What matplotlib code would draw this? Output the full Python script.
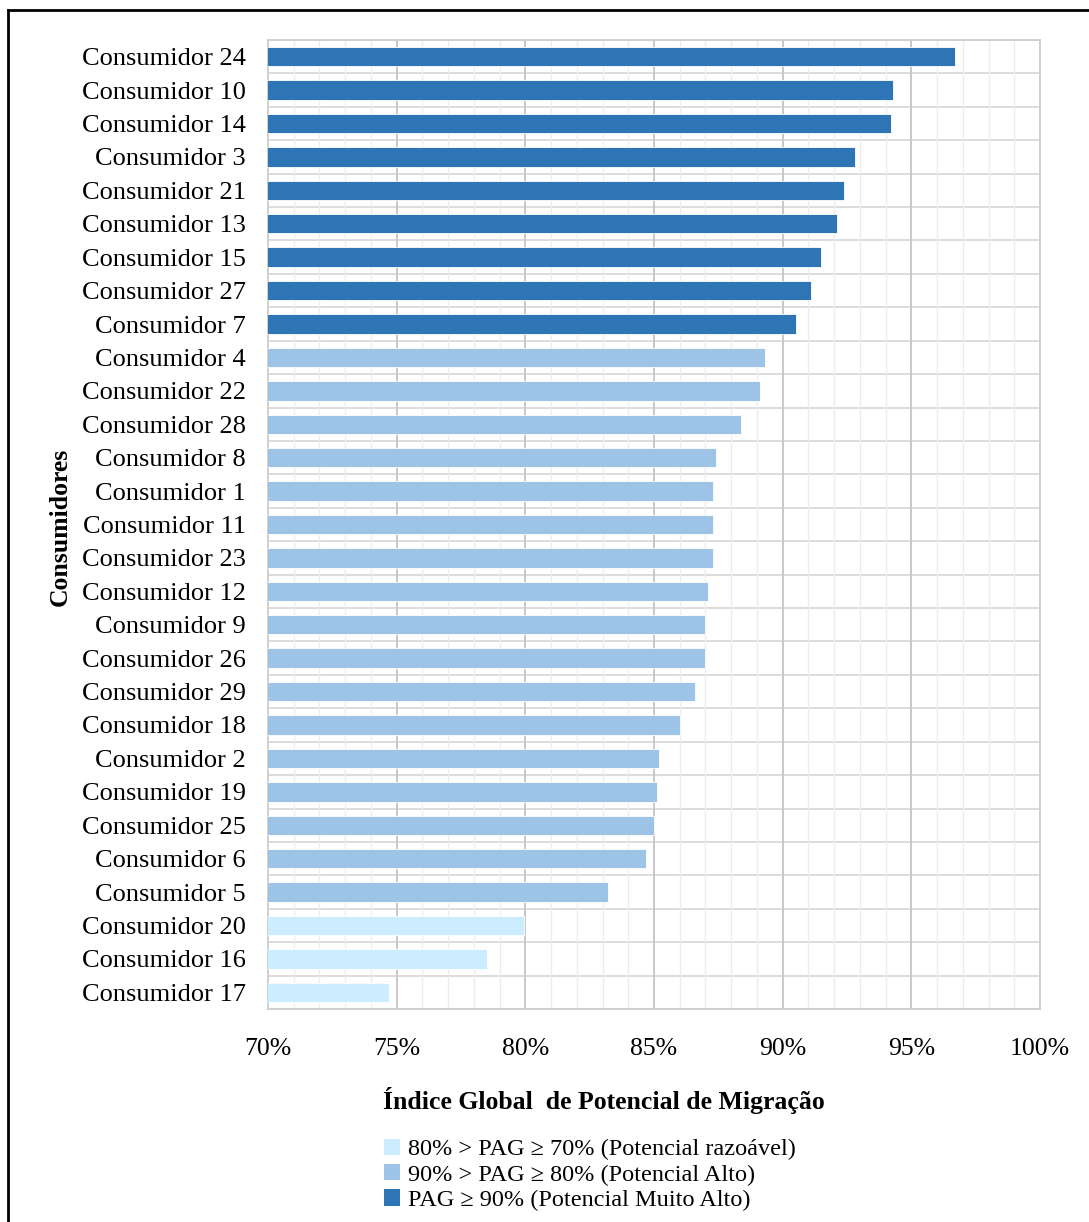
import matplotlib
matplotlib.use("Agg")
import matplotlib.pyplot as plt
from matplotlib.patches import Patch
from matplotlib.lines import Line2D
from matplotlib.ticker import MultipleLocator, FuncFormatter

# ---- data (top to bottom as drawn) ----
consumidores = ["Consumidor 24", "Consumidor 10", "Consumidor 14", "Consumidor 3",
                "Consumidor 21", "Consumidor 13", "Consumidor 15", "Consumidor 27",
                "Consumidor 7", "Consumidor 4", "Consumidor 22", "Consumidor 28",
                "Consumidor 8", "Consumidor 1", "Consumidor 11", "Consumidor 23",
                "Consumidor 12", "Consumidor 9", "Consumidor 26", "Consumidor 29",
                "Consumidor 18", "Consumidor 2", "Consumidor 19", "Consumidor 25",
                "Consumidor 6", "Consumidor 5", "Consumidor 20", "Consumidor 16",
                "Consumidor 17"]
valores = [96.7, 94.3, 94.2, 92.8, 92.4, 92.1, 91.5, 91.1, 90.5, 89.3, 89.1, 88.4,
           87.4, 87.3, 87.3, 87.3, 87.1, 87.0, 87.0, 86.6, 86.0, 85.2, 85.1, 85.0,
           84.7, 83.2, 79.95, 78.5, 74.7]
xticks_vals = [70, 75, 80, 85, 90, 95, 100]
legend_labels = ["80% > PAG ≥ 70% (Potencial razoável)",
                 "90% > PAG ≥ 80% (Potencial Alto)",
                 "PAG ≥ 90% (Potencial Muito Alto)"]

c_light = "#CCECFF"
c_mid = "#9DC3E6"
c_dark = "#2E75B6"

def cor(v):
    if v >= 90:
        return c_dark
    if v >= 80:
        return c_mid
    return c_light

plt.rcParams['font.family'] = ['Liberation Serif', 'DejaVu Serif']

W, H = 1089, 1222
fig = plt.figure(figsize=(W / 100, H / 100), dpi=100)
ax = fig.add_axes([268 / W, 1 - 1009 / H, (1040 - 268) / W, (1009 - 40) / H])

n = len(consumidores)
ypos = list(range(n))[::-1]
cols = [cor(v) for v in valores]
ax.barh(ypos, valores, height=0.58, color=cols, left=0,
        edgecolor="white", linewidth=0.6, zorder=3)

ax.set_xlim(70, 100)
ax.set_ylim(-0.5, n - 0.5)
ax.set_xticks(xticks_vals)
ax.xaxis.set_minor_locator(MultipleLocator(1))
ax.xaxis.set_major_formatter(FuncFormatter(lambda v, p: f"{v:.0f}%"))
ax.set_yticks(ypos)
ax.set_yticklabels(consumidores)

# grid
ax.grid(which="major", axis="x", color="#c8c8c8", linewidth=1.4, zorder=1)
ax.grid(which="minor", axis="x", color="#ededed", linewidth=1.0, zorder=0)
for b in range(n + 1):
    ax.axhline(b - 0.5, color="#dcdcdc", linewidth=1.4, zorder=1)

for s in ax.spines.values():
    s.set_color("#d0d0d0")
    s.set_linewidth(1.4)

ax.tick_params(axis="both", which="both", length=0)
ax.tick_params(axis="x", labelsize=18.5, pad=21)
ax.tick_params(axis="y", labelsize=19, pad=16)

fig.text(604 / W, 1 - 1101 / H, "Índice Global  de Potencial de Migração", fontsize=18.5,
         fontweight="bold", ha="center", va="center")
fig.text(60 / W, 1 - 527 / H, "Consumidores", rotation=90, fontsize=18.5,
         fontweight="bold", ha="center", va="center")

handles = [Patch(facecolor=c, edgecolor="none") for c in (c_light, c_mid, c_dark)]
fig.legend(handles, legend_labels, loc="center", bbox_to_anchor=(590 / W, 1 - 1175 / H),
           frameon=False, fontsize=17.5, handlelength=0.65, handleheight=0.65,
           handletextpad=0.35, labelspacing=0.15, borderpad=0)

# outer frame (left and top edges)
fig.add_artist(Line2D([8 / W, 8 / W], [0, 1 - 10 / H], color="black", linewidth=2,
                      transform=fig.transFigure))
fig.add_artist(Line2D([8 / W, 1], [1 - 10 / H, 1 - 10 / H], color="black", linewidth=2,
                      transform=fig.transFigure))

fig.savefig("out.png", dpi=100)
